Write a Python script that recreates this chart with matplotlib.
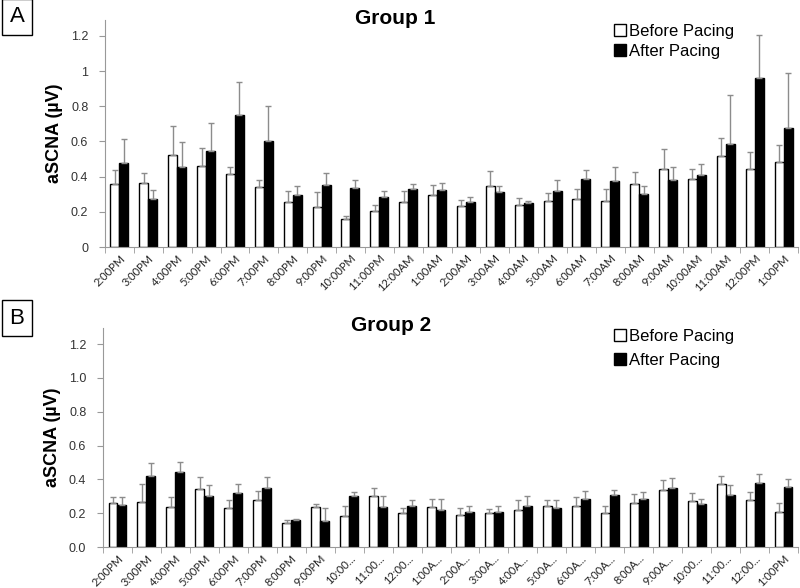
import numpy as np
import matplotlib
matplotlib.use("Agg")
import matplotlib.pyplot as plt
from matplotlib.lines import Line2D

plt.rcParams['font.family'] = ['Liberation Sans', 'DejaVu Sans']

hours_1 = ["2:00PM", "3:00PM", "4:00PM", "5:00PM", "6:00PM", "7:00PM", "8:00PM",
           "9:00PM", "10:00PM", "11:00PM", "12:00AM", "1:00AM", "2:00AM", "3:00AM",
           "4:00AM", "5:00AM", "6:00AM", "7:00AM", "8:00AM", "9:00AM", "10:00AM",
           "11:00AM", "12:00PM", "1:00PM"]
hours_2 = ["2:00PM", "3:00PM", "4:00PM", "5:00PM", "6:00PM", "7:00PM", "8:00PM",
           "9:00PM", "10:00...", "11:00...", "12:00...", "1:00A...", "2:00A...",
           "3:00A...", "4:00A...", "5:00A...", "6:00A...", "7:00A...", "8:00A...",
           "9:00A...", "10:00...", "11:00...", "12:00...", "1:00PM"]

# group 1
g1_before = [0.36, 0.365, 0.52, 0.46, 0.416, 0.34, 0.257, 0.228, 0.16, 0.205, 0.257, 0.293,
             0.234, 0.344, 0.236, 0.26, 0.272, 0.26, 0.357, 0.445, 0.388, 0.519, 0.441, 0.483]
g1_before_err = [0.075, 0.055, 0.17, 0.10, 0.04, 0.042, 0.06, 0.085, 0.015, 0.033, 0.063, 0.061,
                 0.032, 0.088, 0.04, 0.048, 0.055, 0.067, 0.069, 0.114, 0.055, 0.103, 0.101, 0.097]
g1_after = [0.477, 0.272, 0.452, 0.546, 0.751, 0.60, 0.298, 0.354, 0.335, 0.285, 0.33, 0.325,
            0.253, 0.314, 0.249, 0.319, 0.384, 0.375, 0.302, 0.378, 0.407, 0.586, 0.962, 0.675]
g1_after_err = [0.136, 0.054, 0.142, 0.161, 0.189, 0.20, 0.05, 0.068, 0.045, 0.035, 0.03, 0.04,
                0.03, 0.03, 0.011, 0.063, 0.053, 0.081, 0.044, 0.076, 0.064, 0.279, 0.243, 0.312]

# group 2
g2_before = [0.258, 0.268, 0.236, 0.345, 0.233, 0.278, 0.14, 0.234, 0.183, 0.303, 0.2, 0.238,
             0.189, 0.2, 0.219, 0.24, 0.244, 0.2, 0.262, 0.339, 0.274, 0.372, 0.278, 0.207]
g2_before_err = [0.038, 0.106, 0.06, 0.067, 0.043, 0.055, 0.022, 0.022, 0.061, 0.046, 0.03, 0.046,
                 0.041, 0.022, 0.059, 0.036, 0.05, 0.044, 0.051, 0.059, 0.045, 0.046, 0.047, 0.055]
g2_after = [0.248, 0.418, 0.445, 0.30, 0.317, 0.347, 0.158, 0.154, 0.30, 0.238, 0.244, 0.22,
            0.205, 0.207, 0.24, 0.23, 0.286, 0.305, 0.286, 0.347, 0.252, 0.305, 0.38, 0.353]
g2_after_err = [0.048, 0.079, 0.057, 0.065, 0.055, 0.065, 0.008, 0.075, 0.025, 0.062, 0.032, 0.064,
                0.037, 0.037, 0.06, 0.046, 0.047, 0.03, 0.039, 0.059, 0.032, 0.063, 0.052, 0.047]

W, H = 800, 588
fig = plt.figure(figsize=(W / 100, H / 100), dpi=100)


def px_axes(left, top, right, bottom):
    return fig.add_axes([left / W, 1 - bottom / H, (right - left) / W, (bottom - top) / H])


def draw_panel(ax, labels, before, before_err, after, after_err, yticklabels, ytop):
    x = np.arange(len(labels))
    w = 0.31
    zeros = np.zeros(len(x))
    ekw = dict(ecolor="#8c8c8c", elinewidth=1.0, capsize=2.5, capthick=1.0)
    ax.bar(x - w / 2, before, w, color="white", edgecolor="black", linewidth=1.0,
           yerr=[zeros, before_err], error_kw=ekw, zorder=2)
    ax.bar(x + w / 2, after, w, color="black", edgecolor="black", linewidth=1.0,
           yerr=[zeros, after_err], error_kw=ekw, zorder=2)
    ax.set_xlim(-0.5, len(x) - 0.5)
    ax.set_ylim(0, ytop)
    ax.set_yticks(np.arange(0, 1.21, 0.2))
    ax.set_yticklabels(yticklabels, fontsize=9, color="#333333")
    ax.set_xticks(x)
    ax.set_xticklabels(labels, rotation=45, ha="right", rotation_mode="anchor",
                       fontsize=8, color="#222222", family=["Lato", "DejaVu Sans"])
    ax.set_xticks(np.arange(-0.5, len(x), 1), minor=True)
    ax.tick_params(axis="x", which="major", length=0, pad=4)
    ax.tick_params(axis="x", which="minor", length=4, color="#999999")
    ax.tick_params(axis="y", length=4, color="#999999", pad=8)
    for s in ["top", "right"]:
        ax.spines[s].set_visible(False)
    ax.spines["left"].set_color("#999999")
    ax.spines["bottom"].set_color("#999999")
    ax.set_ylabel("aSCNA (µV)", fontsize=13, fontweight="bold", labelpad=6)


ax1 = px_axes(105, 20, 798, 247)
draw_panel(ax1, hours_1, g1_before, g1_before_err, g1_after, g1_after_err,
           ["0", "0.2", "0.4", "0.6", "0.8", "1", "1.2"], 1.29)

ax2 = px_axes(103, 328, 798, 547)
draw_panel(ax2, hours_2, g2_before, g2_before_err, g2_after, g2_after_err,
           ["0.0", "0.2", "0.4", "0.6", "0.8", "1.0", "1.2"], 1.295)

fig.text(395 / W, 1 - 19 / H, "Group 1", fontsize=15, fontweight="bold", ha="center", va="center")
fig.text(391 / W, 1 - 326 / H, "Group 2", fontsize=15, fontweight="bold", ha="center", va="center")

handles = [Line2D([], [], marker="s", linestyle="none", markersize=9,
                  markerfacecolor="white", markeredgecolor="black", markeredgewidth=1.0),
           Line2D([], [], marker="s", linestyle="none", markersize=9,
                  markerfacecolor="black", markeredgecolor="black")]
names = ["Before Pacing", "After Pacing"]
ax1.legend(handles, names, loc="upper left", bbox_to_anchor=(607 / W, 1 - 17 / H),
           bbox_transform=fig.transFigure, frameon=False, fontsize=12,
           handlelength=0.7, handletextpad=0.2, labelspacing=0.3, borderaxespad=0)
ax2.legend(handles, names, loc="upper left", bbox_to_anchor=(607 / W, 1 - 322 / H),
           bbox_transform=fig.transFigure, frameon=False, fontsize=12,
           handlelength=0.7, handletextpad=0.2, labelspacing=0.55, borderaxespad=0)

for lab, ycen in [("A", 17), ("B", 318)]:
    fig.text(17 / W, 1 - ycen / H, lab, fontsize=16, ha="center", va="center",
             bbox=dict(boxstyle="square,pad=0.35", facecolor="white", edgecolor="black", linewidth=1.0))

fig.savefig("out.png", dpi=100)
